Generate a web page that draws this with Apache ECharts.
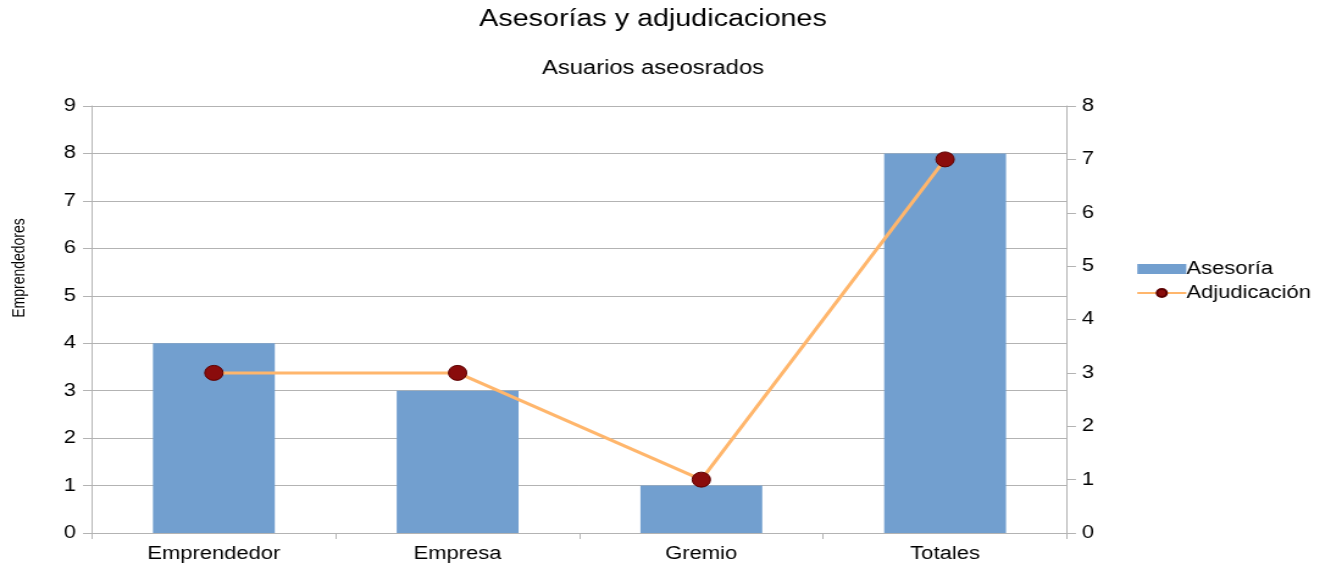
<!DOCTYPE html>
<html>
<head>
<meta charset="utf-8">
<script src="https://cdn.jsdelivr.net/npm/echarts@6/dist/echarts.min.js"></script>
<style>
  html, body { margin: 0; padding: 0; background: #fff; overflow: hidden; }
  #chart { height: 565px; transform-origin: 0 0; }
</style>
</head>
<body>
<div id="chart"></div>
<script>
const categories = ['Emprendedor', 'Empresa', 'Gremio', 'Totales']
const asesoria = [4, 3, 1, 8]
const adjudicacion = [3, 3, 1, 7]

// the reference is stretched sideways, so draw narrower and scale the box
const S = 1.22
const W = 1325 / S
const host = document.getElementById('chart')
host.style.width = W + 'px'
host.style.transform = 'scaleX(' + S + ')'

const font = '"Liberation Sans", Arial, sans-serif'
const chart = echarts.init(host)

chart.setOption({
  animation: false,
  textStyle: { fontFamily: font },
  graphic: [
    {
      type: 'text',
      x: 653 / S,
      y: 8,
      style: {
        text: 'Asesorías y adjudicaciones',
        font: '23.5px ' + font,
        fill: '#000',
        align: 'center',
        verticalAlign: 'top'
      }
    },
    {
      type: 'text',
      x: 653 / S,
      y: 59,
      style: {
        text: 'Asuarios aseosrados',
        font: '19.5px ' + font,
        fill: '#000',
        align: 'center',
        verticalAlign: 'top'
      }
    },
    {
      type: 'text',
      x: 20 / S,
      y: 268,
      rotation: Math.PI / 2,
      style: {
        text: 'Emprendedores',
        font: '14px ' + font,
        fill: '#000',
        align: 'center',
        verticalAlign: 'middle'
      }
    }
  ],
  legend: {
    orient: 'vertical',
    left: 1130 / S,
    top: 255,
    itemWidth: 49 / S,
    itemHeight: 10,
    itemGap: 6,
    textStyle: { fontFamily: font, fontSize: 18, color: '#000', padding: [0, 0, 0, -5] },
    data: [
      { name: 'Asesoría', icon: 'rect' },
      { name: 'Adjudicación' }
    ]
  },
  grid: { left: 92 / S, right: W - 1067 / S, top: 106, bottom: 32 },
  xAxis: {
    type: 'category',
    data: categories,
    axisLine: { lineStyle: { color: '#b3b3b3' } },
    axisTick: { show: true, length: 6, lineStyle: { color: '#b3b3b3' } },
    axisLabel: { color: '#000', fontSize: 18, margin: 12 }
  },
  yAxis: [
    {
      type: 'value',
      min: 0,
      max: 9,
      interval: 1,
      axisLine: { show: true, lineStyle: { color: '#b3b3b3' } },
      axisTick: { show: true, length: 9 / S, lineStyle: { color: '#b3b3b3' } },
      axisLabel: { color: '#000', fontSize: 18, margin: 16 / S },
      splitLine: { lineStyle: { color: '#b3b3b3' } }
    },
    {
      type: 'value',
      min: 0,
      max: 8,
      interval: 1,
      position: 'right',
      axisLine: { show: true, lineStyle: { color: '#b3b3b3' } },
      axisTick: { show: true, length: 9 / S, lineStyle: { color: '#b3b3b3' } },
      axisLabel: { color: '#000', fontSize: 18, margin: 15 / S },
      splitLine: { show: false }
    }
  ],
  series: [
    {
      name: 'Asesoría',
      type: 'bar',
      data: asesoria,
      barWidth: '50%',
      itemStyle: { color: '#729fcf' }
    },
    {
      name: 'Adjudicación',
      type: 'line',
      yAxisIndex: 1,
      data: adjudicacion,
      symbol: 'circle',
      symbolSize: 15,
      lineStyle: { color: '#ffb66c', width: 3 },
      itemStyle: { color: '#8a0c0c', borderColor: '#5c0000', borderWidth: 1 },
      z: 3
    }
  ]
})
</script>
</body>
</html>
